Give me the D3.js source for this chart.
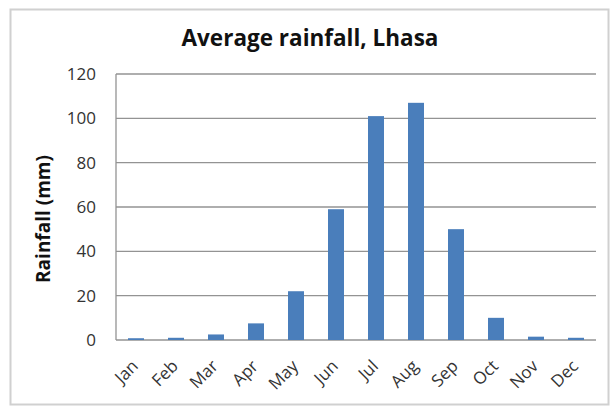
<!DOCTYPE html>
<html><head><meta charset="utf-8">
<script src="https://cdn.jsdelivr.net/npm/d3@7"></script>
<style>body{margin:0;background:#fff}svg{display:block}</style>
</head><body>
<script>
const months = ["Jan","Feb","Mar","Apr","May","Jun","Jul","Aug","Sep","Oct","Nov","Dec"];
const rainfall = [0.8,1.0,2.5,7.5,22,59,101,107,50,10,1.5,1];
const yTicks = [0,20,40,60,80,100,120];
const title = "Average rainfall, Lhasa";
const yLabel = "Rainfall (mm)";

const W=612,H=408;
const svg=d3.select("body").append("svg").attr("width",W).attr("height",H);
svg.append("rect").attr("x",10.5).attr("y",9.5).attr("width",598).attr("height",395)
  .attr("fill","#fff").attr("stroke","#d0d0d0").attr("stroke-width",2);

const m={l:116,r:596,t:74,b:340};
const x=d3.scaleBand().domain(months).range([m.l,m.r]).paddingInner(0.6).paddingOuter(0.3);
const y=d3.scaleLinear().domain([0,120]).range([m.b,m.t]);
const font="'Open Sans', sans-serif";

// gridlines
svg.append("g").selectAll("line").data(yTicks).join("line")
  .attr("x1",m.l).attr("x2",m.r).attr("y1",d=>y(d)).attr("y2",d=>y(d))
  .attr("stroke","#939393").attr("stroke-width",1.3);
// y axis line
svg.append("line").attr("x1",m.l).attr("x2",m.l).attr("y1",m.t).attr("y2",m.b)
  .attr("stroke","#939393").attr("stroke-width",1.3);

// y axis labels
const ya=svg.append("g").attr("transform",`translate(${m.l},0)`)
  .call(d3.axisLeft(y).tickValues(yTicks).tickSize(0).tickPadding(20));
ya.select(".domain").remove();
ya.selectAll("text").attr("font-family",font).attr("font-size",17).attr("fill","#333");

// bars
svg.append("g").selectAll("rect").data(months).join("rect")
  .attr("x",d=>x(d)).attr("width",x.bandwidth())
  .attr("y",(d,i)=>y(rainfall[i])).attr("height",(d,i)=>y(0)-y(rainfall[i]))
  .attr("fill","#4a7ebb");

// x axis labels
const xa=svg.append("g").attr("transform",`translate(0,${m.b})`)
  .call(d3.axisBottom(x).tickSize(0).tickPadding(0));
xa.select(".domain").remove();
xa.selectAll("text").attr("font-family",font).attr("font-size",17).attr("fill","#333")
  .attr("text-anchor","end").attr("y",0).attr("dy","0.35em")
  .attr("transform","translate(-1,23) rotate(-45)");

// title
svg.append("text").attr("x",310).attr("y",46).attr("text-anchor","middle")
  .attr("font-family",font).attr("font-weight","bold").attr("font-size",22.5).attr("fill","#111").text(title);
// y label
svg.append("text").attr("transform","translate(50,219) rotate(-90)").attr("text-anchor","middle")
  .attr("font-family",font).attr("font-weight","bold").attr("font-size",19).attr("fill","#111").text(yLabel);
</script>
</body></html>
